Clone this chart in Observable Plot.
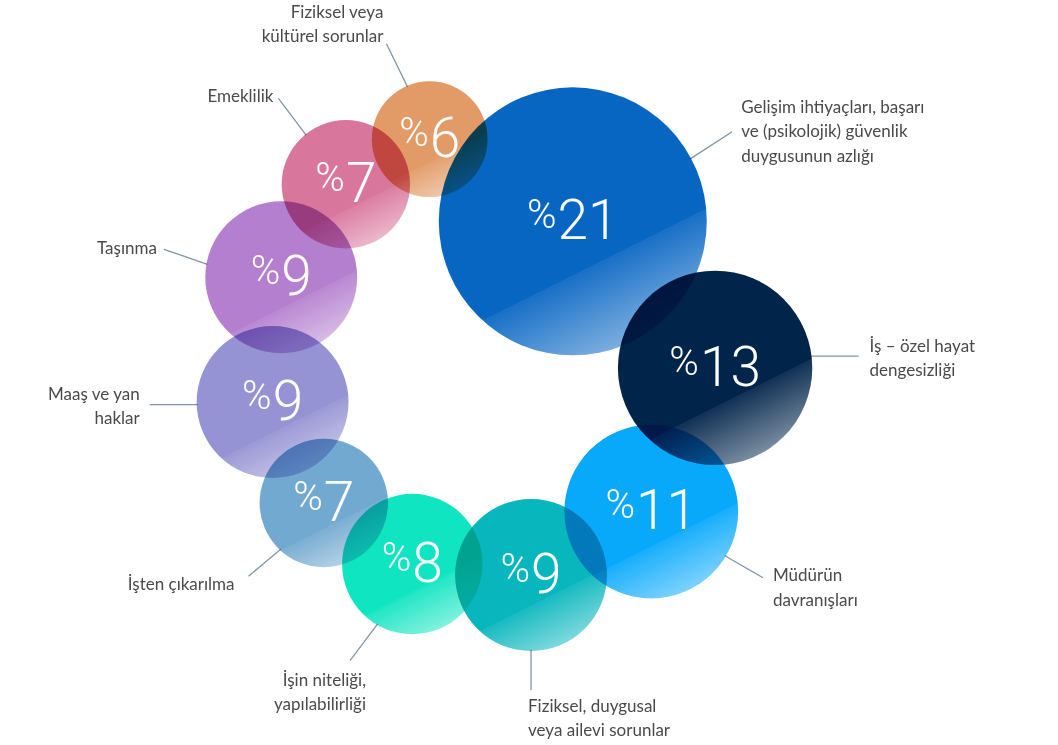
<!DOCTYPE html>
<html>
<head>
<meta charset="utf-8">
<script src="https://cdn.jsdelivr.net/npm/d3@7"></script>
<script src="https://cdn.jsdelivr.net/npm/@observablehq/plot@0.6"></script>
<style>
  html, body { margin: 0; padding: 0; background: #ffffff; }
  #chart { width: 1058px; height: 745px; }
  g[aria-label="dot"] circle { mix-blend-mode: multiply; }
</style>
</head>
<body>
<div id="chart"></div>
<script>
// ---------- DATA ----------
const categories = [
  "Gelişim ihtiyaçları, başarı\nve (psikolojik) güvenlik\nduygusunun azlığı",
  "İş – özel hayat\ndengesizliği",
  "Müdürün\ndavranışları",
  "Fiziksel, duygusal\nveya ailevi sorunlar",
  "İşin niteliği,\nyapılabilirliği",
  "İşten çıkarılma",
  "Maaş ve yan\nhaklar",
  "Taşınma",
  "Emeklilik",
  "Fiziksel veya\nkültürel sorunlar"
];
const values = [21, 13, 11, 9, 8, 7, 9, 9, 7, 6];
const colors = ["#0866c3", "#01244a", "#08a9fb", "#08b6be", "#10e5c1",
                "#72a9d0", "#9593d3", "#b47fcf", "#d9769c", "#e29a66"];

// ---------- LAYOUT (not data) ----------
const W = 1058, H = 745;
const ringCenter = [491, 354];
const ringRadius = 224;
const startAngle = 31.4;          // degrees, clockwise from up
const rMax = 134, rExp = 0.67;
// leader lines: angle on circle, direction, length; label offset from line end
const leaders = [
  {at: 62,  dir: 57,  len: 50, dx: 9,   dy: -2,  anchor: "start"},
  {at: 83,  dir: 90,  len: 48, dx: 11,  dy: 0,   anchor: "start"},
  {at: 121, dir: 120, len: 44, dx: 10,  dy: 8,   anchor: "start"},
  {at: 180, dir: 180, len: 40, dx: -3,  dy: 26,  anchor: "start"},
  {at: 210, dir: 217, len: 46, dx: 16,  dy: 30,  anchor: "end"},
  {at: 223, dir: 230, len: 42, dx: -14, dy: 6,   anchor: "end"},
  {at: 268, dir: 270, len: 48, dx: -10, dy: 0,   anchor: "end"},
  {at: 280, dir: 289, len: 46, dx: -7,  dy: -3,  anchor: "end"},
  {at: 321, dir: 323, len: 46, dx: -5,  dy: -4,  anchor: "end"},
  {at: 337, dir: 334, len: 48, dx: -3,  dy: -21, anchor: "end"}
];

const rad = d => d * Math.PI / 180;
const rScale = d3.scalePow().exponent(rExp).domain([0, d3.max(values)]).range([0, rMax]);
const n = values.length;
const radii = values.map(v => rScale(v));
const rho = radii.map(r => ringRadius - 2 * Math.max(0, r - 100));

// neighbouring bubbles overlap by a constant depth; solve it so the ring closes
function gapAngles(ov) {
  return d3.range(n).map(i => {
    const j = (i + 1) % n;
    const d = radii[i] + radii[j] - ov;
    const c = (rho[i] ** 2 + rho[j] ** 2 - d * d) / (2 * rho[i] * rho[j]);
    return Math.acos(Math.max(-1, Math.min(1, c)));
  });
}
let lo = -50, hi = 100;
for (let k = 0; k < 60; k++) {
  const mid = (lo + hi) / 2;
  if (d3.sum(gapAngles(mid)) > 2 * Math.PI) lo = mid; else hi = mid;
}
const gaps = gapAngles((lo + hi) / 2);

let ang = rad(startAngle);
const bubbles = values.map((v, i) => {
  const a = ang;
  ang += gaps[i];
  return {
    i, value: v, label: categories[i],
    x: ringCenter[0] + rho[i] * Math.sin(a),
    y: ringCenter[1] - rho[i] * Math.cos(a),
    r: radii[i]
  };
});

const lines = bubbles.map((b, i) => {
  const L = leaders[i];
  const sx = b.x + (b.r - 1) * Math.sin(rad(L.at));
  const sy = b.y - (b.r - 1) * Math.cos(rad(L.at));
  const ex = sx + L.len * Math.sin(rad(L.dir));
  const ey = sy - L.len * Math.cos(rad(L.dir));
  return {x1: sx, y1: sy, x2: ex, y2: ey, tx: ex + L.dx, ty: ey + L.dy, anchor: L.anchor, label: b.label};
});

const labelMarks = lines.map(l => Plot.text([l], {
  x: "tx", y: "ty", text: "label",
  textAnchor: l.anchor, lineAnchor: "middle",
  fontSize: 17, lineHeight: 1.42,
  fontFamily: "Lato, 'Open Sans', sans-serif",
  fill: "#4a4a4a"
}));

const svg = Plot.plot({
  width: W, height: H, margin: 0,
  style: {background: "transparent", fontFamily: "Lato, sans-serif"},
  x: {domain: [0, W], range: [0, W], axis: null},
  y: {domain: [0, H], range: [0, H], axis: null},
  r: {type: "pow", exponent: rExp, domain: [0, d3.max(values)], range: [0, rMax]},
  color: {type: "identity"},
  marks: [
    Plot.link(lines, {x1: "x1", y1: "y1", x2: "x2", y2: "y2", stroke: "#8294a6", strokeWidth: 1.3}),
    Plot.dot(bubbles, {x: "x", y: "y", r: "value", fill: d => `url(#bg${d.i})`, sort: null}),
    Plot.text(bubbles, {
      x: "x", y: "y", text: d => "%" + d.value,
      fill: "white", fontSize: 55, fontWeight: 300,
      fontFamily: "Roboto, Lato, sans-serif", lineAnchor: "middle"
    }),
    ...labelMarks
  ]
});

// gradients
const defs = d3.select(svg).insert("defs", ":first-child");
colors.forEach((c, i) => {
  const g = defs.append("linearGradient").attr("id", `bg${i}`)
    .attr("x1", 0.25).attr("y1", 0).attr("x2", 0.75).attr("y2", 1);
  g.append("stop").attr("offset", 0).attr("stop-color", c).attr("stop-opacity", 1);
  g.append("stop").attr("offset", 0.66).attr("stop-color", c).attr("stop-opacity", 1);
  g.append("stop").attr("offset", 0.66).attr("stop-color", c).attr("stop-opacity", 0.94);
  g.append("stop").attr("offset", 1).attr("stop-color", c).attr("stop-opacity", 0.45);
});

// smaller raised percent sign
d3.select(svg).selectAll("text")
  .filter(function () { return this.textContent.startsWith("%"); })
  .each(function () {
    const num = this.textContent.slice(1);
    const t = d3.select(this);
    t.text(null);
    t.append("tspan").attr("font-size", 40).attr("dy", -11).text("%");
    t.append("tspan").attr("dx", 1).attr("dy", 11).text(num);
  });

document.getElementById("chart").appendChild(svg);
</script>
</body>
</html>
